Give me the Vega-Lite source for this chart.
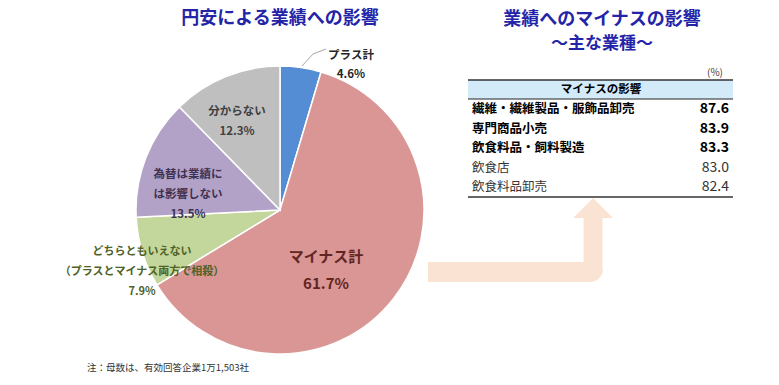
{
  "$schema": "https://vega.github.io/schema/vega-lite/v6.json",
  "width": 779,
  "height": 385,
  "padding": 0,
  "autosize": {"type": "fit", "contains": "padding"},
  "background": "white",
  "config": {"view": {"stroke": null}, "axis": {"disable": true}, "font": "Noto Sans CJK JP", "text": {"font": "Noto Sans CJK JP"}},
  "resolve": {"scale": {"y": "independent"}},
  "layer": [
    {
      "layer": [
        {
          "data": {"values": [
            {"cat": "プラス計", "pct": 4.6, "o": 1},
            {"cat": "マイナス計", "pct": 61.7, "o": 2},
            {"cat": "どちらともいえない", "pct": 7.9, "o": 3},
            {"cat": "為替は業績には影響しない", "pct": 13.5, "o": 4},
            {"cat": "分からない", "pct": 12.3, "o": 5}
          ]},
          "mark": {"type": "arc", "radius": 144, "stroke": "white", "strokeWidth": 1.5},
          "encoding": {
            "theta": {"field": "pct", "type": "quantitative", "stack": true},
            "order": {"field": "o", "type": "quantitative"},
            "color": {"field": "cat", "type": "nominal", "legend": null,
              "scale": {"domain": ["プラス計", "マイナス計", "どちらともいえない", "為替は業績には影響しない", "分からない"],
                        "range": ["#548DD4", "#D99694", "#C3D69B", "#B3A2C7", "#BFBFBF"]}},
            "x": {"datum": 280, "type": "quantitative", "scale": {"domain": [0, 779], "nice": false, "zero": false}},
            "y": {"datum": 210, "type": "quantitative", "scale": {"domain": [0, 385], "nice": false, "zero": false, "reverse": true}}
          }
        },
        {
          "data": {"values": [{"label": ["プラス計", "4.6%"]}]},
          "mark": {"type": "text", "align": "center", "baseline": "middle", "fontSize": 11.5, "fontWeight": "bold", "lineHeight": 19, "color": "#262626"},
          "encoding": {
            "text": {"field": "label", "type": "nominal"},
            "x": {"datum": 351, "type": "quantitative", "scale": {"domain": [0, 779], "nice": false, "zero": false}},
            "y": {"datum": 55.5, "type": "quantitative", "scale": {"domain": [0, 385], "nice": false, "zero": false, "reverse": true}}
          }
        },
        {
          "data": {"values": [{}]},
          "mark": {"type": "rule", "color": "#A6A6A6", "strokeWidth": 1},
          "encoding": {
            "x": {"datum": 302, "type": "quantitative", "scale": {"domain": [0, 779], "nice": false, "zero": false}},
            "x2": {"datum": 313},
            "y": {"datum": 66, "type": "quantitative", "scale": {"domain": [0, 385], "nice": false, "zero": false, "reverse": true}},
            "y2": {"datum": 54}
          }
        },
        {
          "data": {"values": [{}]},
          "mark": {"type": "rule", "color": "#A6A6A6", "strokeWidth": 1},
          "encoding": {
            "x": {"datum": 313, "type": "quantitative", "scale": {"domain": [0, 779], "nice": false, "zero": false}},
            "x2": {"datum": 326},
            "y": {"datum": 54, "type": "quantitative", "scale": {"domain": [0, 385], "nice": false, "zero": false, "reverse": true}},
            "y2": {"datum": 49}
          }
        },
        {
          "data": {"values": [{"label": ["分からない", "12.3%"]}]},
          "mark": {"type": "text", "align": "center", "baseline": "middle", "fontSize": 11.5, "fontWeight": "bold", "lineHeight": 20, "color": "#404040"},
          "encoding": {
            "text": {"field": "label", "type": "nominal"},
            "x": {"datum": 237, "type": "quantitative", "scale": {"domain": [0, 779], "nice": false, "zero": false}},
            "y": {"datum": 112, "type": "quantitative", "scale": {"domain": [0, 385], "nice": false, "zero": false, "reverse": true}}
          }
        },
        {
          "data": {"values": [{"label": ["為替は業績に", "は影響しない", "13.5%"]}]},
          "mark": {"type": "text", "align": "center", "baseline": "middle", "fontSize": 11.5, "fontWeight": "bold", "lineHeight": 20, "color": "#3F3151"},
          "encoding": {
            "text": {"field": "label", "type": "nominal"},
            "x": {"datum": 188, "type": "quantitative", "scale": {"domain": [0, 779], "nice": false, "zero": false}},
            "y": {"datum": 175, "type": "quantitative", "scale": {"domain": [0, 385], "nice": false, "zero": false, "reverse": true}}
          }
        },
        {
          "data": {"values": [{"label": ["どちらともいえない", "（プラスとマイナス両方で相殺）", "7.9%"]}]},
          "mark": {"type": "text", "align": "center", "baseline": "middle", "fontSize": 11, "fontWeight": "bold", "lineHeight": 20, "color": "#4F6228"},
          "encoding": {
            "text": {"field": "label", "type": "nominal"},
            "x": {"datum": 142, "type": "quantitative", "scale": {"domain": [0, 779], "nice": false, "zero": false}},
            "y": {"datum": 252, "type": "quantitative", "scale": {"domain": [0, 385], "nice": false, "zero": false, "reverse": true}}
          }
        },
        {
          "data": {"values": [{"label": ["マイナス計", "61.7%"]}]},
          "mark": {"type": "text", "align": "center", "baseline": "middle", "fontSize": 15, "fontWeight": "bold", "lineHeight": 27, "color": "#632523"},
          "encoding": {
            "text": {"field": "label", "type": "nominal"},
            "x": {"datum": 326, "type": "quantitative", "scale": {"domain": [0, 779], "nice": false, "zero": false}},
            "y": {"datum": 256.5, "type": "quantitative", "scale": {"domain": [0, 385], "nice": false, "zero": false, "reverse": true}}
          }
        },
        {
          "data": {"values": [{"label": "円安による業績への影響"}]},
          "mark": {"type": "text", "align": "center", "baseline": "middle", "fontSize": 18, "fontWeight": "bold", "color": "#2424A8"},
          "encoding": {
            "text": {"field": "label", "type": "nominal"},
            "x": {"datum": 280, "type": "quantitative", "scale": {"domain": [0, 779], "nice": false, "zero": false}},
            "y": {"datum": 19, "type": "quantitative", "scale": {"domain": [0, 385], "nice": false, "zero": false, "reverse": true}}
          }
        },
        {
          "data": {"values": [{"label": "業績へのマイナスの影響"}]},
          "mark": {"type": "text", "align": "center", "baseline": "middle", "fontSize": 18, "fontWeight": "bold", "color": "#2424A8"},
          "encoding": {
            "text": {"field": "label", "type": "nominal"},
            "x": {"datum": 602, "type": "quantitative", "scale": {"domain": [0, 779], "nice": false, "zero": false}},
            "y": {"datum": 20, "type": "quantitative", "scale": {"domain": [0, 385], "nice": false, "zero": false, "reverse": true}}
          }
        },
        {
          "data": {"values": [{"label": "～主な業種～"}]},
          "mark": {"type": "text", "align": "center", "baseline": "middle", "fontSize": 17, "fontWeight": "bold", "color": "#2424A8"},
          "encoding": {
            "text": {"field": "label", "type": "nominal"},
            "x": {"datum": 602, "type": "quantitative", "scale": {"domain": [0, 779], "nice": false, "zero": false}},
            "y": {"datum": 44, "type": "quantitative", "scale": {"domain": [0, 385], "nice": false, "zero": false, "reverse": true}}
          }
        },
        {
          "data": {"values": [{"label": "(%)"}]},
          "mark": {"type": "text", "align": "center", "baseline": "middle", "fontSize": 10, "color": "#404040"},
          "encoding": {
            "text": {"field": "label", "type": "nominal"},
            "x": {"datum": 715, "type": "quantitative", "scale": {"domain": [0, 779], "nice": false, "zero": false}},
            "y": {"datum": 73, "type": "quantitative", "scale": {"domain": [0, 385], "nice": false, "zero": false, "reverse": true}}
          }
        },
        {
          "data": {"values": [{}]},
          "mark": {"type": "rect", "color": "#D3EAF8"},
          "encoding": {
            "x": {"datum": 468, "type": "quantitative", "scale": {"domain": [0, 779], "nice": false, "zero": false}},
            "x2": {"datum": 733},
            "y": {"datum": 80, "type": "quantitative", "scale": {"domain": [0, 385], "nice": false, "zero": false, "reverse": true}},
            "y2": {"datum": 99}
          }
        },
        {
          "data": {"values": [{}]},
          "mark": {"type": "rule", "color": "#333333", "strokeWidth": 1.5},
          "encoding": {
            "x": {"datum": 468, "type": "quantitative", "scale": {"domain": [0, 779], "nice": false, "zero": false}},
            "x2": {"datum": 733},
            "y": {"datum": 80, "type": "quantitative", "scale": {"domain": [0, 385], "nice": false, "zero": false, "reverse": true}}
          }
        },
        {
          "data": {"values": [{}]},
          "mark": {"type": "rule", "color": "#222222", "strokeWidth": 1},
          "encoding": {
            "x": {"datum": 468, "type": "quantitative", "scale": {"domain": [0, 779], "nice": false, "zero": false}},
            "x2": {"datum": 733},
            "y": {"datum": 99, "type": "quantitative", "scale": {"domain": [0, 385], "nice": false, "zero": false, "reverse": true}}
          }
        },
        {
          "data": {"values": [{}]},
          "mark": {"type": "rule", "color": "#333333", "strokeWidth": 1.5},
          "encoding": {
            "x": {"datum": 468, "type": "quantitative", "scale": {"domain": [0, 779], "nice": false, "zero": false}},
            "x2": {"datum": 733},
            "y": {"datum": 197, "type": "quantitative", "scale": {"domain": [0, 385], "nice": false, "zero": false, "reverse": true}}
          }
        },
        {
          "data": {"values": [{"label": "マイナスの影響"}]},
          "mark": {"type": "text", "align": "center", "baseline": "middle", "fontSize": 11.5, "fontWeight": "bold", "color": "#000000"},
          "encoding": {
            "text": {"field": "label", "type": "nominal"},
            "x": {"datum": 601, "type": "quantitative", "scale": {"domain": [0, 779], "nice": false, "zero": false}},
            "y": {"datum": 89.5, "type": "quantitative", "scale": {"domain": [0, 385], "nice": false, "zero": false, "reverse": true}}
          }
        },
        {
          "data": {"values": [{}]},
          "mark": {"type": "rule", "color": "#FBE3D4", "strokeWidth": 20, "strokeCap": "butt"},
          "encoding": {
            "x": {"datum": 428, "type": "quantitative", "scale": {"domain": [0, 779], "nice": false, "zero": false}},
            "x2": {"datum": 590},
            "y": {"datum": 272, "type": "quantitative", "scale": {"domain": [0, 385], "nice": false, "zero": false, "reverse": true}}
          }
        },
        {
          "data": {"values": [{}]},
          "mark": {"type": "arc", "color": "#FBE3D4", "innerRadius": 0, "radius": 13, "theta": 1.5708, "theta2": 3.1416},
          "encoding": {
            "x": {"datum": 590, "type": "quantitative", "scale": {"domain": [0, 779], "nice": false, "zero": false}},
            "y": {"datum": 269, "type": "quantitative", "scale": {"domain": [0, 385], "nice": false, "zero": false, "reverse": true}}
          }
        },
        {
          "data": {"values": [{}]},
          "mark": {"type": "rule", "color": "#FBE3D4", "strokeWidth": 19, "strokeCap": "butt"},
          "encoding": {
            "x": {"datum": 593, "type": "quantitative", "scale": {"domain": [0, 779], "nice": false, "zero": false}},
            "y": {"datum": 270, "type": "quantitative", "scale": {"domain": [0, 385], "nice": false, "zero": false, "reverse": true}},
            "y2": {"datum": 217}
          }
        },
        {
          "data": {"values": [{}]},
          "mark": {"type": "point", "filled": true, "color": "#FBE3D4", "opacity": 1, "size": 1600, "shape": "M -1 0.5 L 0 -0.5 L 1 0.5 Z"},
          "encoding": {
            "x": {"datum": 593, "type": "quantitative", "scale": {"domain": [0, 779], "nice": false, "zero": false}},
            "y": {"datum": 208, "type": "quantitative", "scale": {"domain": [0, 385], "nice": false, "zero": false, "reverse": true}}
          }
        },
        {
          "data": {"values": [{"label": "注：母数は、有効回答企業1万1,503社"}]},
          "mark": {"type": "text", "align": "left", "baseline": "middle", "fontSize": 9.5, "color": "#333333"},
          "encoding": {
            "text": {"field": "label", "type": "nominal"},
            "x": {"datum": 87, "type": "quantitative", "scale": {"domain": [0, 779], "nice": false, "zero": false}},
            "y": {"datum": 368, "type": "quantitative", "scale": {"domain": [0, 385], "nice": false, "zero": false, "reverse": true}}
          }
        }
      ]
    },
    {
      "data": {"values": [
        {"industry": "繊維・繊維製品・服飾品卸売", "value": 87.6, "rank": 1},
        {"industry": "専門商品小売", "value": 83.9, "rank": 2},
        {"industry": "飲食料品・飼料製造", "value": 83.3, "rank": 3},
        {"industry": "飲食店", "value": 83.0, "rank": 4},
        {"industry": "飲食料品卸売", "value": 82.4, "rank": 5}
      ]},
      "encoding": {
        "y": {"field": "rank", "type": "quantitative", "scale": {"domain": [1, 5], "range": [109, 187], "nice": false, "zero": false}}
      },
      "layer": [
        {
          "transform": [{"filter": "datum.rank <= 3"}],
          "mark": {"type": "text", "align": "left", "baseline": "middle", "fontSize": 12.5, "fontWeight": "bold", "color": "#000000"},
          "encoding": {
            "text": {"field": "industry", "type": "nominal"},
            "x": {"datum": 472, "type": "quantitative", "scale": {"domain": [0, 779], "nice": false, "zero": false}}
          }
        },
        {
          "transform": [{"filter": "datum.rank <= 3"}],
          "mark": {"type": "text", "align": "right", "baseline": "middle", "fontSize": 14, "fontWeight": "bold", "color": "#000000"},
          "encoding": {
            "text": {"field": "value", "type": "quantitative", "format": ".1f"},
            "x": {"datum": 729, "type": "quantitative", "scale": {"domain": [0, 779], "nice": false, "zero": false}}
          }
        },
        {
          "transform": [{"filter": "datum.rank > 3"}],
          "mark": {"type": "text", "align": "left", "baseline": "middle", "fontSize": 12.5, "color": "#333333"},
          "encoding": {
            "text": {"field": "industry", "type": "nominal"},
            "x": {"datum": 472, "type": "quantitative", "scale": {"domain": [0, 779], "nice": false, "zero": false}}
          }
        },
        {
          "transform": [{"filter": "datum.rank > 3"}],
          "mark": {"type": "text", "align": "right", "baseline": "middle", "fontSize": 14, "color": "#333333"},
          "encoding": {
            "text": {"field": "value", "type": "quantitative", "format": ".1f"},
            "x": {"datum": 729, "type": "quantitative", "scale": {"domain": [0, 779], "nice": false, "zero": false}}
          }
        }
      ]
    }
  ]
}
